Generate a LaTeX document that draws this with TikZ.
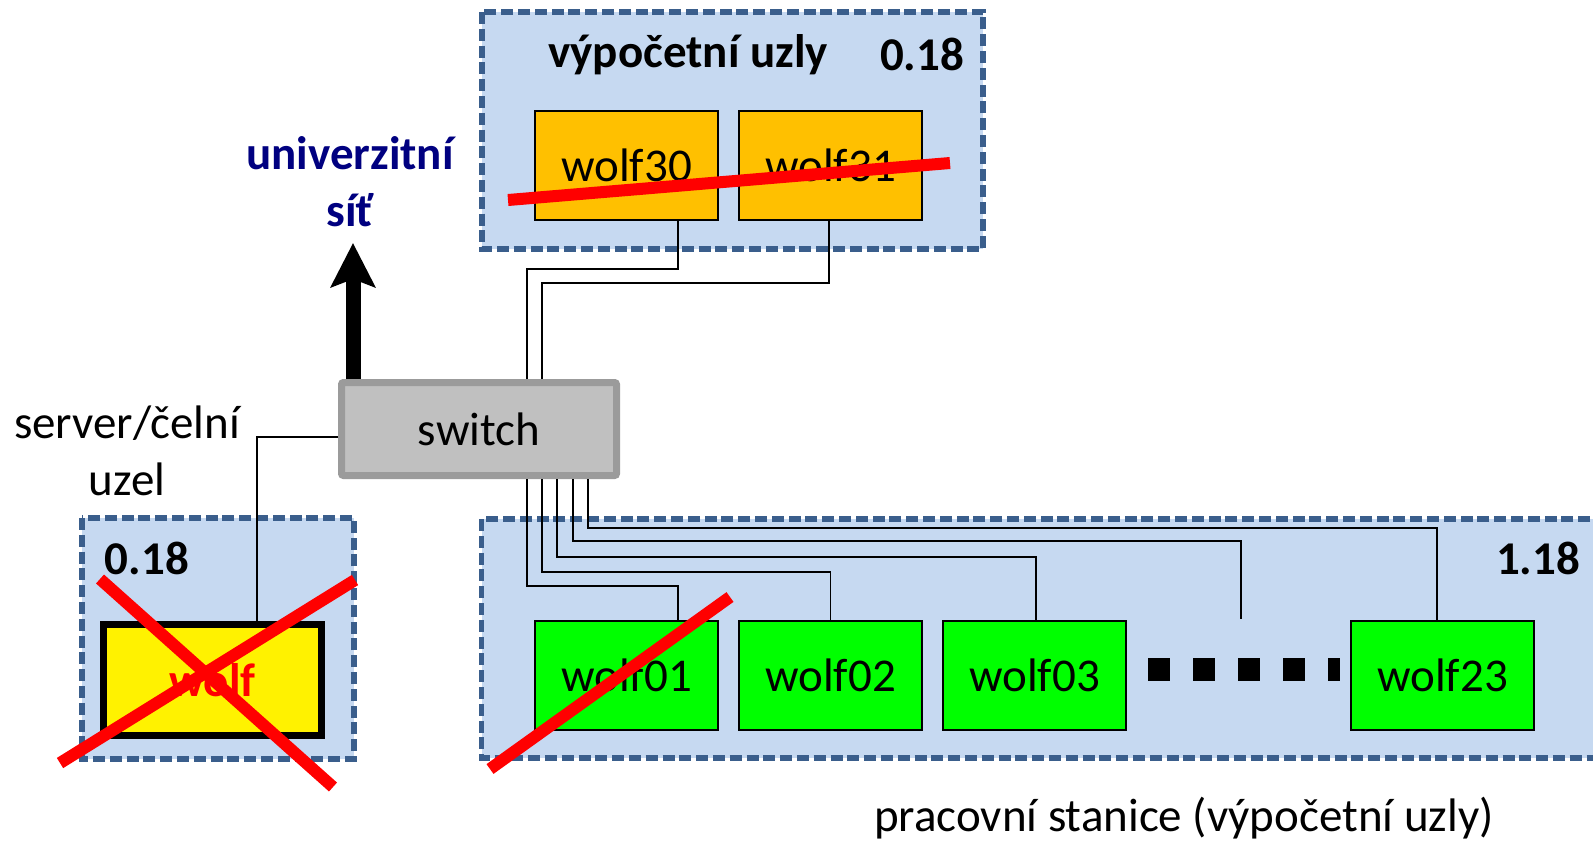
\documentclass[tikz,border=0pt]{standalone}
\usepackage{fontspec}
\setmainfont{Carlito}
\usetikzlibrary{calc}
\usetikzlibrary{arrows.meta}

\definecolor{panelfill}{HTML}{C6D9F1}
\definecolor{panelline}{HTML}{3A5E8C}
\definecolor{nodeorange}{HTML}{FFC000}
\definecolor{nodegreen}{HTML}{00FF00}
\definecolor{swfill}{HTML}{C0C0C0}
\definecolor{swline}{HTML}{9B9B9B}
\definecolor{netblue}{HTML}{000080}

\begin{document}
\begin{tikzpicture}
[x=0.5pt,y=-0.5pt,%
  panel/.style={fill=panelfill,draw=panelline,line width=2.8pt,dash pattern=on 6pt off 2.4pt},%
  wolfbox/.style={draw,line width=1pt,minimum width=91.5pt,minimum height=54.5pt,inner sep=0pt},%
  wire/.style={line width=0.75pt},%
  cross/.style={red,line width=6pt}]
\fontsize{23.5pt}{28.5pt}\selectfont
\useasboundingbox (0,0) rectangle (1593,842);
% panels
\draw[panel] (482,12) rectangle (983,249);
\draw[panel] (82,518) rectangle (354,759);
\draw[panel] (481.5,519) rectangle (1620,758);
% nodes
\node[font=\bfseries] (title) at (688,55) {výpočetní uzly};
\node[font=\bfseries] (room1) at (922,54) {0.18};
\node[font=\bfseries] (room2) at (147,558) {0.18};
\node[font=\bfseries] (room3) at (1538,558) {1.18};
\node[wolfbox,fill=nodeorange] (w30) at (626.5,165.5) {wolf30};
\node[wolfbox,fill=nodeorange] (w31) at (830.5,165.5) {wolf31};
\node[wolfbox,fill=nodegreen] (w01) at (626.5,675.5) {wolf01};
\node[wolfbox,fill=nodegreen] (w02) at (830.5,675.5) {wolf02};
\node[wolfbox,fill=nodegreen] (w03) at (1034.5,675.5) {wolf03};
\node[wolfbox,fill=nodegreen] (w23) at (1442.5,675.5) {wolf23};
\node[draw=swline,fill=swfill,line width=3.5pt,rounded corners=1pt,%
  minimum width=137.5pt,minimum height=46.5pt] (sw) at (479,429) {switch};
\node[draw,fill=yellow,line width=3.5pt,minimum width=109pt,minimum height=55.5pt,%
  text=red,font=\bfseries] (srv) at (212.5,680) {wolf};
\node[align=center] (srvlabel) at (127,451) {server/čelní\\uzel};
\node[align=center,text=netblue,font=\bfseries] (net) at (350,182) {univerzitní\\síť};
\node (wslabel) at (1184,818) {pracovní stanice (výpočetní uzly)};
\coordinate (up) at (353,243);
\coordinate (gap) at (1241,619);
% uplink
\draw[-{Stealth[length=22pt,width=22pt,inset=4pt]},line width=7.5pt]
  ($(sw.north)+(-126,0)$) -- (up);
% wires
\draw[wire] ($(sw.north)+(48,0)$) |- ($(w30.south)+(51.5,48)$) -- ($(w30.south)+(51.5,0)$);
\draw[wire] ($(sw.north)+(63,0)$) |- ($(w31.south)+(-1.5,62)$) -- ($(w31.south)+(-1.5,0)$);
\draw[wire] ($(sw.west)+(0,8)$) -| ($(srv.north)+(44.5,0)$);
\foreach \dx/\dy/\ox/\n in {48/-34/51.5/w01, 63/-48/0/w02, 78/-63/1.5/w03, 109/-92/-5.5/w23}
  \draw[wire] ($(sw.south)+(\dx,0)$) |- ($(\n.north)+(\ox,\dy)$) -- ($(\n.north)+(\ox,0)$);
\draw[wire] ($(sw.south)+(94,0)$) |- ($(gap)+(0,-78)$) -- (gap);
% dots
\draw[line width=11.5pt,dash pattern=on 11pt off 11.5pt]
  ($(w03.east)+(21,-6)$) -- ($(w23.west)+(-10,-6)$);
% crossed out
\draw[cross] (508,200) -- (950,163);
\draw[cross] (730,597) -- (490,769);
\draw[cross] (100,579) -- (333,787);
\draw[cross] (355,580) -- (60,763);
\end{tikzpicture}
\end{document}
